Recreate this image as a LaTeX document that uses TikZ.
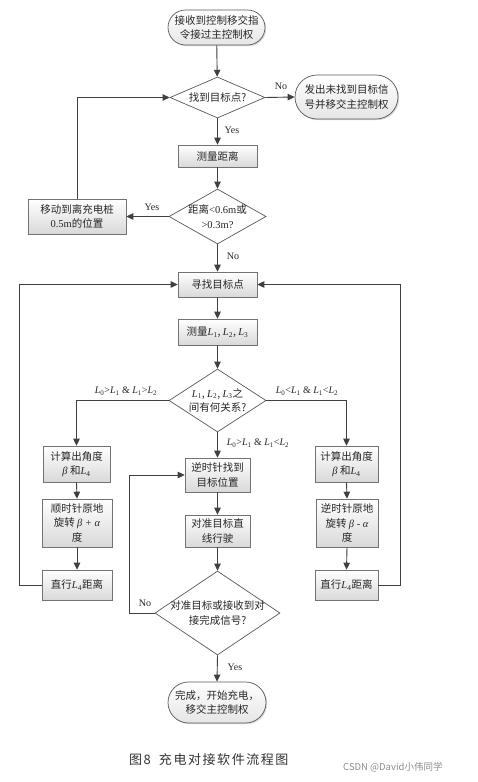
\documentclass[tikz,border=0pt]{standalone}
\usepackage{fontspec}
\setmainfont{Noto Sans CJK SC}
\newfontfamily\tm{Liberation Serif}
\newfontfamily\capfont[LetterSpace=12]{Noto Sans CJK SC}
\usetikzlibrary{shapes.geometric,shapes.misc,arrows.meta,shadows}
\newcommand\LL[1]{{\tm\itshape L}\textsubscript{\tm #1}}
\tikzset{
 base/.style={font=\fontsize{10.5}{14.5}\selectfont, align=center, inner sep=0pt, text=black!85},
 box/.style={base, rectangle, draw=black!55, line width=0.6pt, top color=white, bottom color=black!15,
   drop shadow={shadow xshift=1.2pt, shadow yshift=-1.2pt, opacity=0.3}},
 term/.style={base, rounded rectangle, draw=black!65, line width=0.7pt, top color=white, bottom color=black!10,
   drop shadow={shadow xshift=1.2pt, shadow yshift=-1.2pt, opacity=0.3}},
 dia/.style={diamond, draw=black!65, line width=0.7pt, fill=white, inner sep=0pt},
 arr/.style={draw=black!75, line width=0.9pt, -{Triangle[length=7pt,width=6.5pt]}},
 lin/.style={draw=black!75, line width=0.9pt},
 lab/.style={font=\tm\fontsize{10}{12}\selectfont, inner sep=0pt, text=black!85},
}
\begin{document}
\begin{tikzpicture}[x=1pt,y=-1pt]
\useasboundingbox (0,0) rectangle (478,782);
\fill[white] (0,0) rectangle (478,782);
% nodes
\node[term, minimum width=97, minimum height=35] (s) at (216.5,27.5) {接收到控制移交指\\令接过主控制权};
\node[dia, minimum width=95, minimum height=41] (d1) at (217.5,97.5) {};
\node[base] (d1t) at (d1) {找到目标点?};
\node[term, minimum width=103, minimum height=44] (t2) at (346.5,97) {发出未找到目标信\\号并移交主控制权};
\node[box, minimum width=79, minimum height=22] (r1) at (217.5,156) {测量距离};
\node[dia, minimum width=97, minimum height=55] (d2) at (217.5,216.5) {};
\node[base] (d2t) at (d2) {距离{\tm <0.6m}或\\{\tm >0.3m?}};
\node[box, minimum width=98, minimum height=35] (r2) at (77,216.5) {移动到离充电桩\\{\tm 0.5m}的位置};
\node[box, minimum width=79, minimum height=25] (r3) at (217.5,284.5) {寻找目标点};
\node[box, minimum width=79, minimum height=26] (r4) at (217.5,332) {测量\LL1, \LL2, \LL3};
\node[dia, minimum width=97, minimum height=63] (d3) at (217.5,400.5) {};
\node[base] (d3t) at (d3) {\LL1, \LL2, \LL3之\\间有何关系?};
\node[box, minimum width=67, minimum height=36] (l1) at (76.5,464) {计算出角度\\{\tm\itshape β} 和\LL4};
\node[box, minimum width=70, minimum height=48] (l2) at (77,523) {顺时针原地\\旋转 {\tm\itshape β + α}\\度};
\node[box, minimum width=70, minimum height=30] (l3) at (77,585) {直行\LL4距离};
\node[box, minimum width=63, minimum height=36] (rr1) at (346.5,464) {计算出角度\\{\tm\itshape β} 和\LL4};
\node[box, minimum width=62, minimum height=48] (rr2) at (347,523) {逆时针原地\\旋转 {\tm\itshape β - α}\\度};
\node[box, minimum width=63, minimum height=30] (rr3) at (346.5,585) {直行\LL4距离};
\node[box, minimum width=65, minimum height=34] (m1) at (217.5,475) {逆时针找到\\目标位置};
\node[box, minimum width=65, minimum height=32] (m2) at (217.5,531) {对准目标直\\线行驶};
\node[dia, minimum width=125, minimum height=84] (d4) at (217.5,613) {};
\node[base] (d4t) at (d4) {对准目标或接收到对\\接完成信号?};
\node[term, minimum width=98, minimum height=41] (e) at (217,702.5) {完成，开始充电，\\移交主控制权};
% coordinates
\coordinate (lc) at (19,585);
\coordinate (rc) at (400,585);
\coordinate (nc) at (129,613);
% connectors
\draw[arr] (s) -- (d1);
\draw[arr] (d1.east) -- (t2.west);
\draw[arr] (d1.south) -- (r1.north);
\draw[arr] (r1.south) -- (d2.north);
\draw[arr] (d2.west) -- (r2.east);
\draw[arr] (r2.north) |- (d1.west);
\draw[arr] (d2.south) -- (r3.north);
\draw[arr] (r3.south) -- (r4.north);
\draw[arr] (r4.south) -- (d3.north);
\draw[arr] (d3.west) -| (l1.north);
\draw[arr] (d3.east) -| (rr1.north);
\draw[arr] (d3.south) -- (m1.north);
\draw[arr] (l1.south) -- (l2.north);
\draw[arr] (l2.south) -- (l3.north);
\draw[arr] (rr1.south) -- (rr2.north);
\draw[arr] (rr2.south) -- (rr3.north);
\draw[arr] (l3.west) -- (lc) |- (r3.west);
\draw[arr] (rr3.east) -- (rc) |- (r3.east);
\draw[arr] (m1.south) -- (m2.north);
\draw[arr] (m2.south) -- (d4.north);
\draw[arr] (d4.west) -- (nc) |- (m1.west);
\draw[arr] (d4.south) -- (e.north);
% labels
\node[lab] (y1) at (281,86) {No};
\node[lab] (y2) at (232,130) {Yes};
\node[lab] (y3) at (152,207) {Yes};
\node[lab] (y4) at (233,256) {No};
\node[lab] (y5) at (126,391) {\LL0>\LL1 \& \LL1>\LL2};
\node[lab] (y6) at (307,391) {\LL0<\LL1 \& \LL1<\LL2};
\node[lab] (y7) at (258,443) {\LL0>\LL1 \& \LL1<\LL2};
\node[lab] (y8) at (145,603) {No};
\node[lab] (y9) at (235,667) {Yes};
% caption
\node[font=\capfont\fontsize{13}{15}\selectfont, text=black!80, anchor=west, inner sep=0pt] (cap) at (129,760) {图8\hspace{8pt}充电对接软件流程图};
\node[font=\fontsize{9.5}{11}\selectfont, text=black!45, anchor=west, inner sep=0pt] (wm) at (343,767) {CSDN @David小伟同学};
\end{tikzpicture}
\end{document}
